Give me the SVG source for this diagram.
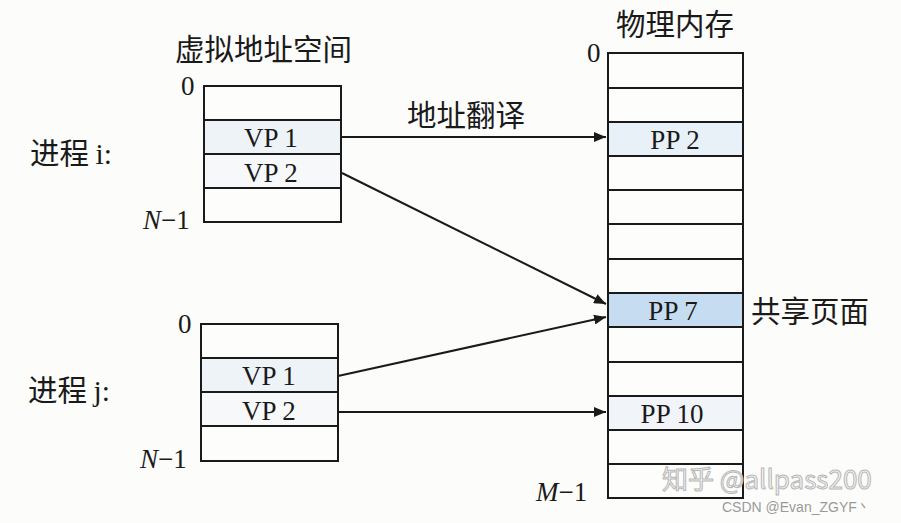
<svg xmlns="http://www.w3.org/2000/svg" width="901" height="523" viewBox="0 0 901 523">
<style>
.cell{stroke:#1a1a1a;stroke-width:2}
.t{font-family:"Liberation Serif","Times New Roman","DejaVu Serif",serif;font-size:27px;fill:#1a1a1a}
.cn{font-family:"Noto Sans CJK SC","Liberation Serif",sans-serif;font-size:29.5px;fill:#1a1a1a}
.c{text-anchor:middle}
.conn{stroke:#1a1a1a;stroke-width:2;fill:none}
</style>
<defs>
<marker id="ah" viewBox="0 0 12 10" refX="12" refY="5" markerWidth="12" markerHeight="10" markerUnits="userSpaceOnUse" orient="auto">
<path d="M0,0 L12,5 L0,10 Z" fill="#1a1a1a"/>
</marker>
</defs>
<rect width="901" height="523" fill="#fcfcfa"/>

<text class="cn" x="175" y="60">虚拟地址空间</text>
<text class="cn" x="616" y="35">物理内存</text>

<g id="vas_i">
<rect class="cell" x="204" y="86" width="137" height="34" fill="#fdfdfc"/>
<rect class="cell" x="204" y="120" width="137" height="34" fill="#eef3f8"/>
<rect class="cell" x="204" y="154" width="137" height="34" fill="#f6f8fa"/>
<rect class="cell" x="204" y="188" width="137" height="34" fill="#fdfdfc"/>
<text class="t c" x="271" y="147">VP 1</text>
<text class="t c" x="271" y="182">VP 2</text>
<text class="t" x="181" y="95">0</text>
<text class="t" x="143" y="229"><tspan font-style="italic">N</tspan>−1</text>
<text class="cn" x="30" y="164">进程 <tspan font-family="Liberation Serif,serif">i:</tspan></text>
</g>

<g id="vas_j">
<rect class="cell" x="201" y="324" width="137" height="34" fill="#fdfdfc"/>
<rect class="cell" x="201" y="358" width="137" height="34" fill="#eef3f8"/>
<rect class="cell" x="201" y="392" width="137" height="34" fill="#f6f8fa"/>
<rect class="cell" x="201" y="426" width="137" height="35" fill="#fdfdfc"/>
<text class="t c" x="269" y="385">VP 1</text>
<text class="t c" x="269" y="420">VP 2</text>
<text class="t" x="178" y="333">0</text>
<text class="t" x="140" y="468"><tspan font-style="italic">N</tspan>−1</text>
<text class="cn" x="28" y="401">进程 <tspan font-family="Liberation Serif,serif">j:</tspan></text>
</g>

<g id="phys">
<rect class="cell" x="608" y="53" width="135" height="445" fill="#fdfdfc"/>
<rect class="cell" x="608" y="122" width="135" height="34" fill="#e8f0f8"/>
<rect class="cell" x="608" y="293" width="135" height="34" fill="#c6dcf1"/>
<rect class="cell" x="608" y="396" width="135" height="34" fill="#f1f5f9"/>
<g class="cell">
<line x1="608" y1="88" x2="743" y2="88"/>
<line x1="608" y1="190" x2="743" y2="190"/>
<line x1="608" y1="224" x2="743" y2="224"/>
<line x1="608" y1="259" x2="743" y2="259"/>
<line x1="608" y1="362" x2="743" y2="362"/>
<line x1="608" y1="464" x2="743" y2="464"/>
</g>
<text class="t c" x="675" y="149">PP 2</text>
<text class="t c" x="673" y="320">PP 7</text>
<text class="t c" x="672" y="423">PP 10</text>
<text class="t" x="587" y="62">0</text>
<text class="t" x="536" y="501"><tspan font-style="italic">M</tspan>−1</text>
<text class="cn" x="751" y="322">共享页面</text>
</g>

<g id="connectors">
<line class="conn" x1="341" y1="137" x2="606" y2="137" marker-end="url(#ah)"/>
<line class="conn" x1="342" y1="173" x2="606" y2="304" marker-end="url(#ah)"/>
<line class="conn" x1="338" y1="376" x2="606" y2="317" marker-end="url(#ah)"/>
<line class="conn" x1="338" y1="412" x2="606" y2="412" marker-end="url(#ah)"/>
<text class="cn" x="407" y="126">地址翻译</text>
</g>

<text x="662" y="489" font-family="Noto Sans CJK SC,sans-serif" font-size="26" fill="#f4f4f4" stroke="#b8b8b8" stroke-width="1">知乎 @allpass200</text>
<text x="722" y="512" font-family="Liberation Sans,sans-serif" font-size="14" fill="#9a9a9a">CSDN @Evan_ZGYF丶</text>
</svg>
